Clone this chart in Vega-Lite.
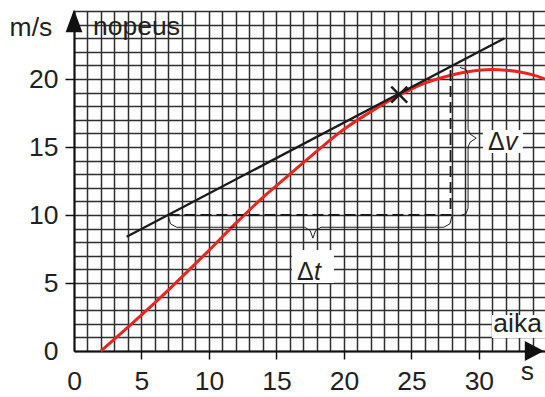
{
  "$schema": "https://vega.github.io/schema/vega-lite/v6.json",
  "width": 471,
  "height": 340,
  "autosize": {"type": "none"},
  "padding": {"left": 74, "top": 11, "right": 0, "bottom": 46},
  "config": {"view": {"stroke": null}, "font": "Liberation Sans"},
  "datasets": {
    "curve": [
      {"t": 2, "v": 0}, {"t": 4, "v": 1.75}, {"t": 6, "v": 3.55}, {"t": 8, "v": 5.45},
      {"t": 10, "v": 7.4}, {"t": 12, "v": 9.4}, {"t": 14, "v": 11.3}, {"t": 16, "v": 13.0},
      {"t": 18, "v": 14.7}, {"t": 20, "v": 16.3}, {"t": 22, "v": 17.6}, {"t": 24, "v": 18.75},
      {"t": 26, "v": 19.7}, {"t": 28, "v": 20.3}, {"t": 30, "v": 20.65}, {"t": 31, "v": 20.7},
      {"t": 32, "v": 20.65}, {"t": 34, "v": 20.3}, {"t": 34.9, "v": 20.0}
    ],
    "tangent": [{"t": 3.9, "v": 8.4}, {"t": 31.9, "v": 23.0}],
    "dashed": [{"i": 0, "t": 7.0, "v": 10}, {"i": 1, "t": 27.9, "v": 10}, {"i": 2, "t": 27.9, "v": 20.85}],
    "dtbrace": [
      {"i": 0, "t": 7.0, "v": 9.9}, {"i": 1, "t": 7.15, "v": 9.35}, {"i": 2, "t": 7.6, "v": 9.1},
      {"i": 3, "t": 17.1, "v": 9.1}, {"i": 4, "t": 17.5, "v": 8.85}, {"i": 5, "t": 17.7, "v": 8.3},
      {"i": 6, "t": 17.9, "v": 8.85}, {"i": 7, "t": 18.3, "v": 9.1}, {"i": 8, "t": 27.4, "v": 9.1},
      {"i": 9, "t": 27.85, "v": 9.35}, {"i": 10, "t": 28.0, "v": 9.9}
    ],
    "dvbrace": [
      {"i": 0, "t": 28.6, "v": 20.85}, {"i": 1, "t": 29.05, "v": 20.7}, {"i": 2, "t": 29.2, "v": 20.3},
      {"i": 3, "t": 29.2, "v": 16.3}, {"i": 4, "t": 29.35, "v": 15.95}, {"i": 5, "t": 29.8, "v": 15.65},
      {"i": 6, "t": 29.35, "v": 15.35}, {"i": 7, "t": 29.2, "v": 15.0}, {"i": 8, "t": 29.2, "v": 10.5},
      {"i": 9, "t": 29.05, "v": 10.1}, {"i": 10, "t": 28.6, "v": 9.95}
    ],
    "boxes": [
      {"t": 16.15, "t2": 19.26, "v": 5.0, "v2": 7.43},
      {"t": 30.3, "t2": 33.26, "v": 14.56, "v2": 16.25},
      {"t": 30.96, "t2": 34.9, "v": 0.96, "v2": 2.65}
    ],
    "cross": [{"t": 24.1, "v": 18.85}],
    "yarrow": [{"t": 0, "v": 24.23}],
    "xarrow": [{"t": 34.07, "v": 0}],
    "deltas": [{"label": "Δ", "t": 16.52, "v": 5.22}, {"label": "Δ", "t": 30.67, "v": 14.78}],
    "vars": [{"label": "t", "t": 17.78, "v": 5.22}, {"label": "v", "t": 31.93, "v": 14.78}],
    "leftlabels": [{"label": "nopeus", "t": 1.41, "v": 23.2}],
    "centerlabels": [{"label": "m/s", "t": -3.19, "v": 23.16}, {"label": "s", "t": 33.6, "v": -2.13}],
    "rightlabels": [{"label": "aika", "t": 34.67, "v": 1.4}]
  },
  "encoding": {
    "x": {
      "field": "t", "type": "quantitative",
      "scale": {"domain": [0, 34.9], "nice": false, "zero": false},
      "axis": {
        "title": null,
        "values": [0,1,2,3,4,5,6,7,8,9,10,11,12,13,14,15,16,17,18,19,20,21,22,23,24,25,26,27,28,29,30,31,32,33,34],
        "grid": true, "gridColor": "#2e2e2e", "gridWidth": 1.5, "gridOpacity": 1,
        "domain": true, "domainColor": "#111111", "domainWidth": 2,
        "ticks": true, "tickColor": "#111111", "tickWidth": 1.5, "tickSize": 8,
        "tickOpacity": {"condition": {"test": "datum.value % 5 === 0 && datum.value > 0", "value": 1}, "value": 0},
        "labelExpr": "datum.value % 5 === 0 ? datum.label : ''",
        "labelFontSize": 26.5, "labelColor": "#231f20", "labelPadding": 9,
        "labelOverlap": false, "labelFlush": false, "labelBound": false
      }
    },
    "y": {
      "field": "v", "type": "quantitative",
      "scale": {"domain": [0, 25], "nice": false, "zero": false},
      "axis": {
        "title": null,
        "values": [0,1,2,3,4,5,6,7,8,9,10,11,12,13,14,15,16,17,18,19,20,21,22,23,24,25],
        "grid": true, "gridColor": "#2e2e2e", "gridWidth": 1.5, "gridOpacity": 1,
        "domain": true, "domainColor": "#111111", "domainWidth": 2,
        "ticks": true, "tickColor": "#111111", "tickWidth": 1.5, "tickSize": 9,
        "tickOpacity": {"condition": {"test": "datum.value % 5 === 0 && datum.value > 0 && datum.value <= 20", "value": 1}, "value": 0},
        "labelExpr": "datum.value % 5 === 0 && datum.value <= 20 ? datum.label : ''",
        "labelFontSize": 26.5, "labelColor": "#231f20", "labelPadding": 7,
        "labelOverlap": false, "labelFlush": false, "labelBound": false
      }
    }
  },
  "layer": [
    {"data": {"name": "boxes"}, "mark": {"type": "rect", "color": "white", "opacity": 1},
     "encoding": {"x2": {"field": "t2"}, "y2": {"field": "v2"}}},
    {"data": {"name": "curve"}, "mark": {"type": "line", "color": "#e8261f", "strokeWidth": 3, "interpolate": "monotone"}},
    {"data": {"name": "tangent"}, "mark": {"type": "line", "color": "#1a1a1a", "strokeWidth": 2.3}},
    {"data": {"name": "dashed"}, "mark": {"type": "line", "color": "#1a1a1a", "strokeWidth": 1.8, "strokeDash": [11, 5]},
     "encoding": {"order": {"field": "i", "type": "quantitative"}}},
    {"data": {"name": "dtbrace"}, "mark": {"type": "line", "color": "#231f20", "strokeWidth": 1},
     "encoding": {"order": {"field": "i", "type": "quantitative"}}},
    {"data": {"name": "dvbrace"}, "mark": {"type": "line", "color": "#231f20", "strokeWidth": 1},
     "encoding": {"order": {"field": "i", "type": "quantitative"}}},
    {"data": {"name": "cross"}, "mark": {"type": "point", "shape": "M-1,-1L1,1M-1,1L1,-1", "size": 256, "filled": false, "color": "#1a1a1a", "strokeWidth": 2.4, "opacity": 1}},
    {"data": {"name": "yarrow"}, "mark": {"type": "point", "shape": "M0,-1L0.7,0.9L-0.7,0.9Z", "size": 576, "filled": true, "color": "#111111", "opacity": 1}},
    {"data": {"name": "xarrow"}, "mark": {"type": "point", "shape": "M1,0L-0.9,1L-0.9,-1Z", "size": 400, "filled": true, "color": "#111111", "opacity": 1}},
    {"data": {"name": "deltas"}, "mark": {"type": "text", "align": "left", "baseline": "alphabetic", "fontSize": 25, "color": "#231f20"},
     "encoding": {"text": {"field": "label"}}},
    {"data": {"name": "vars"}, "mark": {"type": "text", "align": "left", "baseline": "alphabetic", "fontSize": 25, "fontStyle": "italic", "color": "#231f20"},
     "encoding": {"text": {"field": "label"}}},
    {"data": {"name": "leftlabels"}, "mark": {"type": "text", "align": "left", "baseline": "alphabetic", "fontSize": 26.5, "color": "#231f20"},
     "encoding": {"text": {"field": "label"}}},
    {"data": {"name": "centerlabels"}, "mark": {"type": "text", "align": "center", "baseline": "alphabetic", "fontSize": 26.5, "color": "#231f20"},
     "encoding": {"text": {"field": "label"}}},
    {"data": {"name": "rightlabels"}, "mark": {"type": "text", "align": "right", "baseline": "alphabetic", "fontSize": 26.5, "color": "#231f20"},
     "encoding": {"text": {"field": "label"}}}
  ]
}
